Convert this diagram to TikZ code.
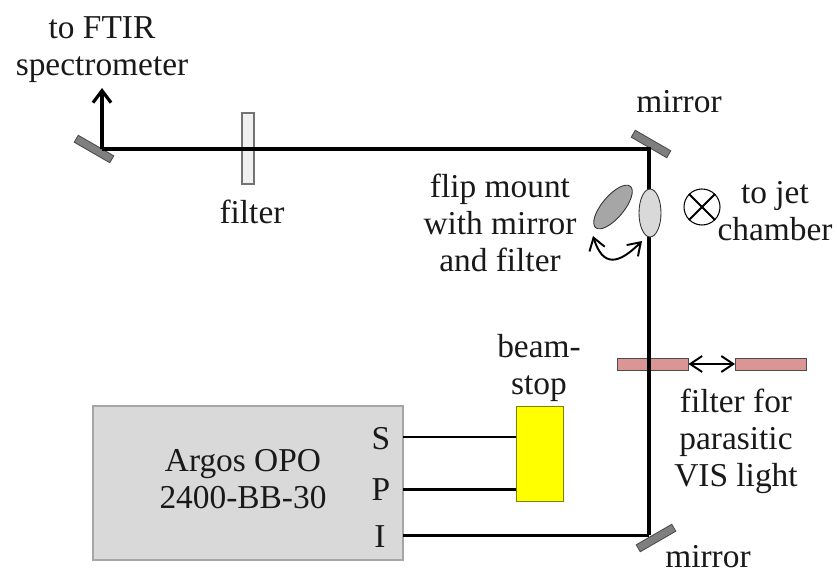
\documentclass[tikz,border=0pt]{standalone}
\usepackage{fontspec}
\setmainfont{Liberation Serif}
\usetikzlibrary{arrows.meta,positioning,shapes.geometric}
\definecolor{mirrorgray}{HTML}{7F7F7F}
\definecolor{flipdark}{HTML}{A6A6A6}
\definecolor{boxgray}{HTML}{D9D9D9}
\definecolor{filterpink}{HTML}{D99694}
\definecolor{stopyellow}{HTML}{FFFF00}
\definecolor{stopedge}{HTML}{7F7F00}
\begin{document}
\begin{tikzpicture}[x=0.2mm,y=-0.2mm]
\tikzset{
  label/.style={font=\fontsize{19}{21}\selectfont,align=center,inner sep=0pt,text=black!90},
  mirror/.style={rectangle,draw=black!70,fill=mirrorgray,line width=0.5pt,minimum width=8.2mm,minimum height=1.6mm,inner sep=0pt},
  filterbar/.style={rectangle,draw=black!70,fill=filterpink,line width=0.5pt,minimum width=14.2mm,minimum height=2.4mm,inner sep=0pt},
  flipoval/.style={ellipse,draw=black!80,line width=0.5pt,inner sep=0pt},
  beam/.style={draw=black,line width=2pt},
  thinbeam/.style={draw=black,line width=1.7pt},
  beamarrow/.style={beam,-{Straight Barb[length=2.4mm,width=3.6mm,line width=1.8pt]}},
  moveboth/.style={draw=black,line width=1.1pt,{Straight Barb[length=2.4mm,width=3.2mm]}-{Straight Barb[length=2.4mm,width=3.2mm]}}
}
\useasboundingbox (0,0) rectangle (837,571);
\node[rectangle,draw=flipdark,fill=boxgray,line width=0.7pt,minimum width=62mm,minimum height=30.8mm,inner sep=0pt] (n_opo) at (248,483) {};
\node[rectangle,draw=stopedge,fill=stopyellow,line width=0.5pt,minimum width=9.4mm,minimum height=19mm,inner sep=0pt] (n_stop) at (539.5,453.5) {};
\node[rectangle,draw=black!55,fill=black!6,line width=0.6pt,minimum width=2.4mm,minimum height=14.2mm,inner sep=0pt] (n_filter) at (248,148.5) {};
\node[filterbar] (n_parleft) at (652.5,364) {};
\node[filterbar] (n_parright) at (771,364) {};
\node[mirror,rotate=-30] (n_mirrorftir) at (94,149) {};
\node[mirror,rotate=-30] (n_mirrortop) at (651,144) {};
\node[mirror,rotate=30] (n_mirrorbot) at (656,538) {};
\node[flipoval,fill=flipdark,minimum width=4.4mm,minimum height=10.8mm,rotate=-40] (n_flipout) at (613,207) {};
\node[circle,draw=black,line width=0.6pt,minimum size=7.2mm,inner sep=0pt] (n_jet) at (702,207) {};
\coordinate (c_ftir) at (102,149);
\coordinate (c_ftirout) at (102,88);
\coordinate (c_top) at (649,149);
\coordinate (c_bot) at (649,535);
\coordinate (c_S) at (403,437);
\coordinate (c_P) at (403,489);
\coordinate (c_I) at (403,535);
\coordinate (c_swingout) at (593,236);
\coordinate (c_swingin) at (642,241);
\draw[beam] (c_ftir) -- (c_top) -- (c_bot);
\draw[beamarrow] (c_ftir) -- (c_ftirout);
\draw[thinbeam] (c_S) -- (c_S -| n_stop.west);
\draw[thinbeam] (c_P) -- (c_P -| n_stop.west);
\draw[thinbeam] (c_I) -- (c_bot);
\node[flipoval,fill=boxgray,minimum width=4.4mm,minimum height=9.6mm] (n_flipin) at (650,213) {};
\draw[line width=1.1pt] (n_jet.45) -- (n_jet.225);
\draw[line width=1.1pt] (n_jet.135) -- (n_jet.315);
\draw[moveboth] (n_parleft.east) -- (n_parright.west);
\draw[moveboth] (c_swingout) .. controls (603,268) and (619,264) .. (c_swingin);
\node[label] (n_tolab) at (102,50) {to FTIR\\spectrometer};
\node[label] (n_filterlab) at (252,212) {filter};
\node[label] (n_mirrortoplab) at (679,102) {mirror};
\node[label] (n_fliplab) at (500,223) {flip mount\\with mirror\\and filter};
\node[label] (n_jetlab) at (775,211) {to jet\\chamber};
\node[label] (n_stoplab) at (539,368) {beam-\\stop};
\node[label] (n_parlab) at (736,441) {filter for\\parasitic\\VIS light};
\node[label] (n_mirrorbotlab) at (708,557) {mirror};
\node[label] (n_opolab) at (243,479) {Argos OPO\\2400-BB-30};
\node[label] (n_Slab) at (381,439) {S};
\node[label] (n_Plab) at (381,490) {P};
\node[label] (n_Ilab) at (380,537) {I};
\end{tikzpicture}
\end{document}
